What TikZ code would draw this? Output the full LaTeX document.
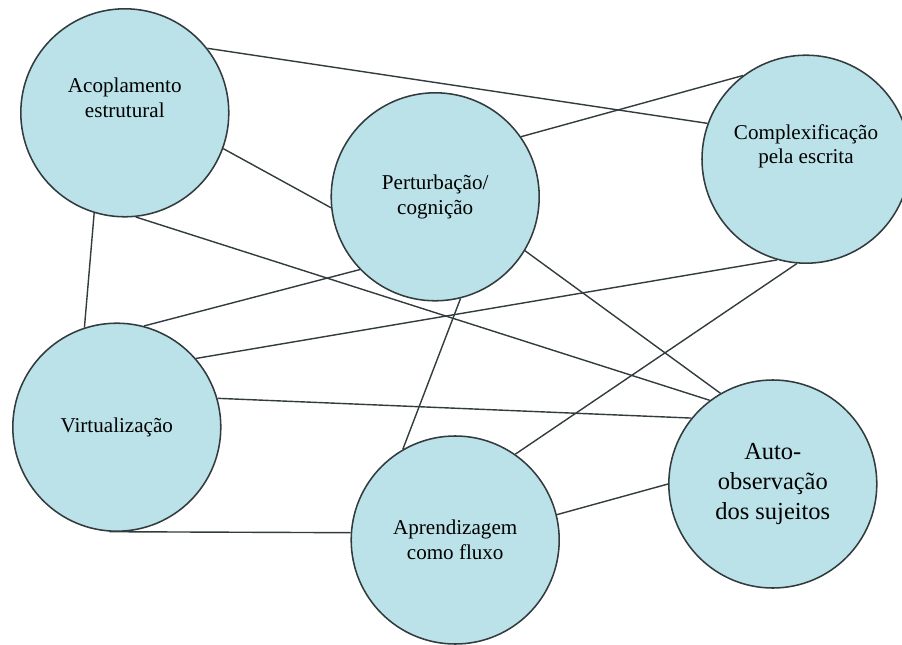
\documentclass[tikz,border=0pt]{standalone}
\usepackage{fontspec}
\setmainfont{Liberation Serif}
\definecolor{bolha}{RGB}{186,226,232}
\definecolor{contorno}{RGB}{50,60,62}
\begin{document}
\begin{tikzpicture}[conceito/.style={circle,draw=contorno,fill=bolha,line width=1.1pt,minimum size=5.2cm,align=center,font=\fontsize{15}{17.5}\selectfont},
	liga/.style={draw=contorno,line width=1pt}]
		\useasboundingbox (0,0) rectangle (22.55,16.1);
		\node[conceito,text depth=0.75cm] (acop) at (3.12,13.28) {Acoplamento\\estrutural};
		\node[conceito] (pert) at (10.88,11.18) {Perturbação/\\cognição};
		\node[conceito,text depth=0.75cm] (compl) at (20.15,12.12) {Complexificação\\pela escrita};
		\node[conceito] (virt) at (2.92,5.42) {Virtualização};
		\node[conceito] (aprend) at (11.38,2.6) {Aprendizagem\\como fluxo};
		\node[conceito,font=\fontsize{17.4}{21.5}\selectfont] (auto) at (19.32,4.0) {Auto-\\observação\\dos sujeitos};
		\draw[liga](acop.38)--(compl.160);
		\draw[liga](acop.-20)--(pert.186);
		\draw[liga](acop.-107)--(virt.108);
		\draw[liga](acop.-84)--(auto.127);
		\draw[liga](pert.35)--(compl.127);
		\draw[liga](pert.-136)--(virt.75);
		\draw[liga](pert.-76)--(aprend.120);
		\draw[liga](pert.-31)--(auto.120);
		\draw[liga](compl.-106)--(virt.41);
		\draw[liga](compl.-95)--(aprend.55);
		\draw[liga](virt.16)--(auto.141);
		\draw[liga](virt.-94)--(aprend.176);
		\draw[liga](aprend.14)--(auto.180);
	    \end{tikzpicture}
\end{document}
